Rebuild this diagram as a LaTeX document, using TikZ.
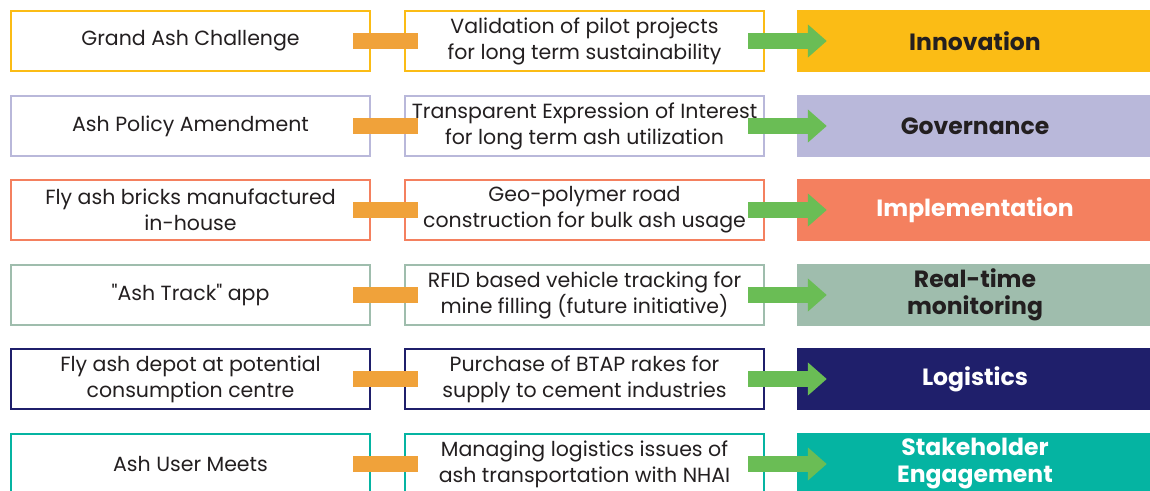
\documentclass[tikz,border=0pt]{standalone}
\usepackage{fontspec}
\setmainfont{Poppins}
\usetikzlibrary{arrows.meta}

\definecolor{txt}{HTML}{231F20}
\definecolor{cInno}{HTML}{FBBC15}
\definecolor{cGov}{HTML}{B9B8DA}
\definecolor{cImpl}{HTML}{F4805F}
\definecolor{cMon}{HTML}{9FBDAD}
\definecolor{cLog}{HTML}{1F1F6B}
\definecolor{cStake}{HTML}{05B4A2}
\definecolor{barOrange}{HTML}{F0A23A}
\definecolor{arrGreen}{HTML}{6ABD55}

\begin{document}
\begin{tikzpicture}[
        x=1pt, y=-1pt,
        font=\fontsize{20.5}{26}\selectfont,
        step box/.style={rectangle, draw=#1, line width=2pt, fill=white,
                         minimum width=359pt, minimum height=60pt,
                         inner sep=0pt, align=center, text=txt},
        area/.style={rectangle, fill=#1, minimum width=356pt,
                     minimum height=62pt, inner sep=0pt, align=center,
                     font=\fontsize{23.5}{27}\selectfont\bfseries},
        link/.style={barOrange, line width=16pt},
        arr/.style={arrGreen, line width=16pt,
                    -{Triangle[length=19pt, width=32pt]}}
      ]
        \useasboundingbox (0,0) rectangle (1150,490);

        % row 1
        \node[step box=cInno] (L1) at (190.5,41) {Grand Ash Challenge};
        \node[step box=cInno] (M1) at (584.5,41) {Validation of pilot projects\\for long term sustainability};
        \node[area=cInno, text=txt] (R1) at (975,41) {Innovation};

        % row 2
        \node[step box=cGov] (L2) at (190.5,126) {Ash Policy Amendment};
        \node[step box=cGov] (M2) at (584.5,126) {Transparent Expression of Interest\\for long term ash utilization};
        \node[area=cGov, text=txt] (R2) at (975,126) {Governance};

        % row 3
        \node[step box=cImpl] (L3) at (190.5,210) {Fly ash bricks manufactured\\in-house};
        \node[step box=cImpl] (M3) at (584.5,210) {Geo-polymer road\\construction for bulk ash usage};
        \node[area=cImpl, text=white] (R3) at (975,210) {Implementation};

        % row 4
        \node[step box=cMon] (L4) at (190.5,295) {\textquotedbl Ash Track\textquotedbl{} app};
        \node[step box=cMon] (M4) at (584.5,295) {RFID based vehicle tracking for\\mine filling (future initiative)};
        \node[area=cMon, text=txt] (R4) at (975,295) {Real-time\\monitoring};

        % row 5
        \node[step box=cLog] (L5) at (190.5,379) {Fly ash depot at potential\\consumption centre};
        \node[step box=cLog] (M5) at (584.5,379) {Purchase of BTAP rakes for\\supply to cement industries};
        \node[area=cLog, text=white] (R5) at (975,379) {Logistics};

        % row 6
        \node[step box=cStake] (L6) at (190.5,464) {Ash User Meets};
        \node[step box=cStake] (M6) at (584.5,464) {Managing logistics issues of\\ash transportation with NHAI};
        \node[area=cStake, text=white] (R6) at (975,464) {Stakeholder\\Engagement};

        \foreach \i in {1,...,6} {
          \draw[link] ([xshift=-18pt]L\i.east) -- ([xshift=14pt]M\i.west);
          \draw[arr] ([xshift=-17pt]M\i.east) -- ([xshift=30pt]R\i.west);
        }
      \end{tikzpicture}
\end{document}
